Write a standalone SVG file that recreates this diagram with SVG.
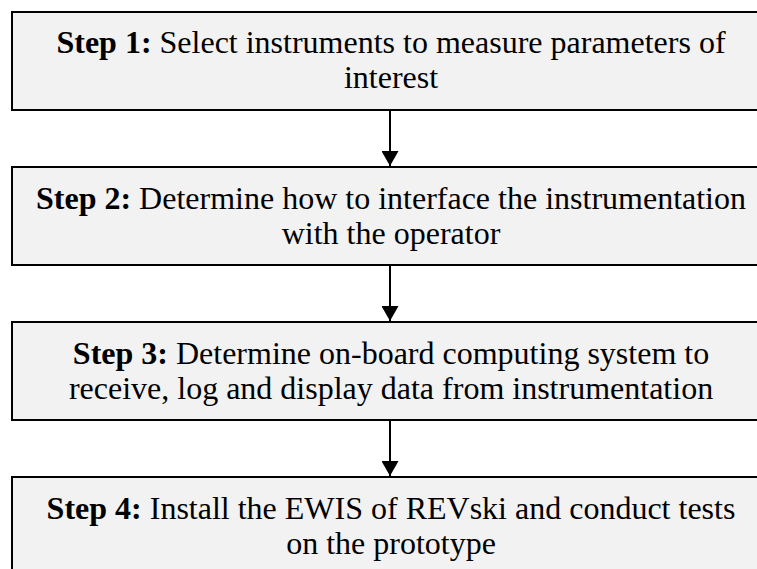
<svg xmlns="http://www.w3.org/2000/svg" width="757" height="569" viewBox="0 0 757 569">
<defs>
<style>
.box{fill:#f2f2f2;stroke:#000;stroke-width:2}
.t{font-family:'Liberation Serif','DejaVu Serif',serif;font-size:32px;fill:#000;text-anchor:middle}
.b{font-weight:bold}
.c{stroke:#000;stroke-width:2;fill:none}
</style>
<marker id="ah" markerUnits="userSpaceOnUse" markerWidth="17" markerHeight="17" refX="15" refY="8.5" orient="auto" viewBox="0 0 17 17">
<path d="M0,0 L15,8.5 L0,17 Z" fill="#000"/>
</marker>
</defs>
<rect width="757" height="569" fill="#fff"/>
<g id="connectors">
<line class="c" x1="390" y1="110" x2="390" y2="166" marker-end="url(#ah)"/>
<line class="c" x1="390" y1="265" x2="390" y2="321" marker-end="url(#ah)"/>
<line class="c" x1="390" y1="420" x2="390" y2="476" marker-end="url(#ah)"/>
</g>
<g id="step1">
<rect class="box" x="12" y="12" width="760" height="98"/>
<text class="t" x="391" y="53" font-family="Liberation Serif, serif"><tspan class="b">Step 1:</tspan> Select instruments to measure parameters of</text>
<text class="t" x="391" y="88" font-family="Liberation Serif, serif">interest</text>
</g>
<g id="step2">
<rect class="box" x="12" y="167" width="760" height="98"/>
<text class="t" x="391" y="209" font-family="Liberation Serif, serif"><tspan class="b">Step 2:</tspan> Determine how to interface the instrumentation</text>
<text class="t" x="391" y="244" font-family="Liberation Serif, serif">with the operator</text>
</g>
<g id="step3">
<rect class="box" x="12" y="322" width="760" height="98"/>
<text class="t" x="391" y="364" font-family="Liberation Serif, serif"><tspan class="b">Step 3:</tspan> Determine on-board computing system to</text>
<text class="t" x="391" y="399" font-family="Liberation Serif, serif">receive, log and display data from instrumentation</text>
</g>
<g id="step4">
<rect class="box" x="12" y="477" width="760" height="110"/>
<text class="t" x="391" y="519" font-family="Liberation Serif, serif"><tspan class="b">Step 4:</tspan> Install the EWIS of REVski and conduct tests</text>
<text class="t" x="391" y="554" font-family="Liberation Serif, serif">on the prototype</text>
</g>
</svg>
